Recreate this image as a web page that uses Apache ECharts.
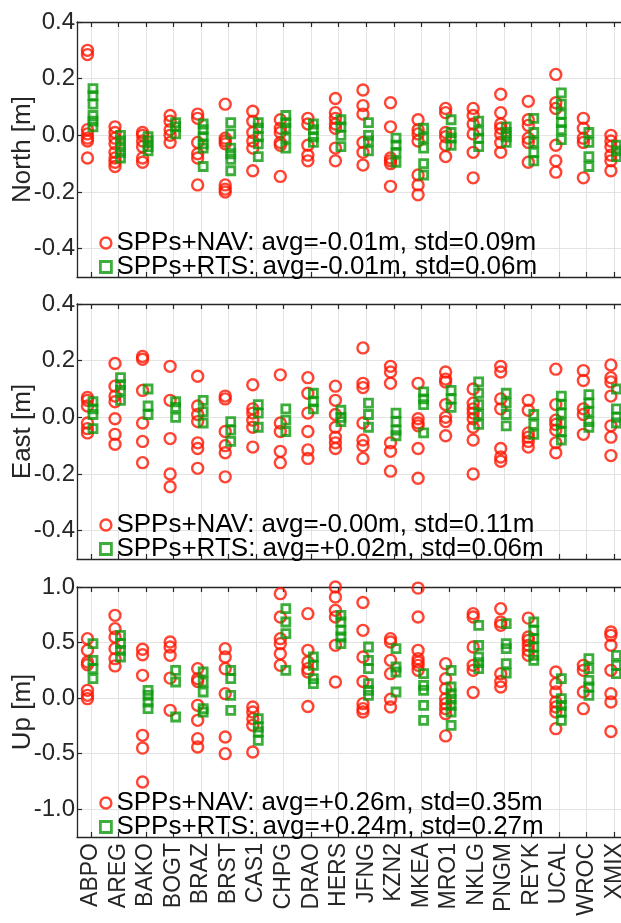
<!DOCTYPE html>
<html><head><meta charset="utf-8">
<script src="https://cdn.jsdelivr.net/npm/echarts@6/dist/echarts.min.js"></script>
<style>html,body{margin:0;padding:0;background:#fff}#c{width:621px;height:923px}</style>
</head><body><div id="c"></div>
<script>
const stations = ['ABPO','AREG','BAKO','BOGT','BRAZ','BRST','CAS1','CHPG','DRAO','HERS','JFNG','KZN2','MKEA','MRO1','NKLG','PNGM','REYK','UCAL','WROC','XMIX'];

const northNAV = [
 [0.30,0.285,0.02,0.005,-0.01,-0.02,-0.08],
 [0.03,0.01,-0.01,-0.03,-0.06,-0.08,-0.095,-0.11],
 [0.01,0.0,-0.02,-0.04,-0.08,-0.095],
 [0.07,0.05,0.02,0.0,-0.025],
 [0.075,0.06,-0.025,-0.065,-0.08,-0.175],
 [0.11,-0.01,-0.02,-0.03,-0.175,-0.19,-0.2],
 [0.085,0.05,0.01,-0.02,-0.045,-0.125],
 [0.055,0.025,0.01,-0.025,-0.035,-0.145],
 [0.06,0.04,-0.035,-0.07,-0.09],
 [0.13,0.08,0.06,0.04,0.025,-0.045,-0.09],
 [0.16,0.105,0.075,-0.025,-0.06,-0.105],
 [0.115,0.03,-0.08,-0.09,-0.1,-0.18],
 [0.055,0.02,0.005,-0.02,-0.14,-0.175,-0.21],
 [0.095,0.08,0.01,-0.005,-0.035,-0.075],
 [0.095,0.07,0.04,0.005,-0.06,-0.15],
 [0.145,0.08,0.04,0.025,0.005,-0.025,-0.06],
 [0.12,0.055,0.035,-0.01,-0.025,-0.095],
 [0.215,0.115,0.095,-0.035,-0.09,-0.13],
 [0.06,0.025,-0.01,-0.025,-0.15],
 [0.0,-0.02,-0.04,-0.07,-0.09,-0.125]
];
const northRTS = [
 [0.165,0.14,0.11,0.07,0.05,0.03],
 [0.0,-0.02,-0.04,-0.06,-0.08],
 [-0.005,-0.02,-0.04,-0.055],
 [0.045,0.03,0.005],
 [0.04,0.02,-0.005,-0.03,-0.045,-0.11],
 [0.045,0.005,-0.045,-0.065,-0.085,-0.125],
 [0.045,0.025,-0.005,-0.03,-0.075],
 [0.07,0.045,0.025,-0.01,-0.045],
 [0.04,0.02,-0.005,-0.025],
 [0.055,0.03,0.0,-0.04],
 [0.045,0.0,-0.02,-0.055],
 [-0.01,-0.035,-0.06,-0.095],
 [0.025,-0.01,-0.045,-0.1,-0.14],
 [0.055,0.01,-0.01,-0.035],
 [0.05,0.015,-0.01,-0.04],
 [0.03,0.01,-0.005,-0.025],
 [0.06,0.01,-0.025,-0.06,-0.09],
 [0.15,0.11,0.075,0.045,0.02,-0.015],
 [0.01,-0.025,-0.075,-0.11],
 [-0.035,-0.055,-0.075]
];
const eastNAV = [
 [0.07,0.06,0.04,-0.02,-0.04,-0.055],
 [0.19,0.11,0.075,0.055,-0.005,-0.06,-0.095],
 [0.215,0.205,0.095,-0.02,-0.085,-0.16],
 [0.18,0.06,-0.075,-0.2,-0.245],
 [0.145,0.04,0.01,-0.015,-0.09,-0.11,-0.18],
 [0.075,0.065,-0.05,-0.1,-0.125,-0.21],
 [0.115,0.03,0.015,-0.01,-0.035,-0.105],
 [0.15,-0.02,-0.05,-0.12,-0.16],
 [0.14,0.085,0.015,-0.05,-0.115,-0.145],
 [0.11,0.06,0.01,-0.035,-0.07,-0.09,-0.11],
 [0.245,0.12,0.105,-0.02,-0.08,-0.1,-0.145],
 [0.18,0.16,0.12,-0.09,-0.12,-0.19],
 [0.12,-0.005,-0.02,-0.03,-0.11,-0.215],
 [0.16,0.135,0.125,0.045,0.0,-0.015,-0.065],
 [0.1,0.05,0.03,0.015,-0.005,-0.035,-0.08,-0.2],
 [0.18,0.16,0.065,0.03,-0.11,-0.14,-0.155],
 [0.06,0.025,-0.055,-0.07,-0.085,-0.105],
 [0.17,0.045,-0.01,-0.025,-0.045,-0.09,-0.125],
 [0.165,0.13,0.03,0.01,-0.06],
 [0.185,0.14,0.125,0.075,-0.03,-0.07,-0.135]
];
const eastRTS = [
 [0.055,0.03,0.01,-0.04],
 [0.14,0.115,0.095,0.06],
 [0.1,0.04,0.01],
 [0.055,0.035,0.0],
 [0.06,0.02,-0.02],
 [-0.015,-0.045,-0.085],
 [0.045,0.015,-0.035],
 [0.03,-0.01,-0.05],
 [0.085,0.055,0.03],
 [0.025,0.0,-0.015],
 [0.05,0.01,-0.035],
 [0.015,-0.015,-0.045,-0.065],
 [0.09,0.065,0.045,-0.055],
 [0.095,0.065,0.035],
 [0.125,0.085,0.045,0.01,-0.025],
 [0.085,0.05,0.01,-0.03],
 [0.01,-0.025,-0.06],
 [0.075,0.045,0.015,-0.02,-0.05,-0.08],
 [0.08,0.05,0.02,-0.015,-0.035],
 [0.1,0.03,0.0,-0.02]
];
const upNAV = [
 [0.535,0.43,0.325,0.3,0.07,0.025,-0.005],
 [0.745,0.625,0.55,0.445,0.355,0.29],
 [0.44,0.39,0.205,-0.335,-0.45,-0.755],
 [0.505,0.46,0.385,0.18,-0.11],
 [0.265,0.175,0.15,-0.065,-0.2,-0.365,-0.44],
 [0.445,0.37,0.265,0.04,-0.35,-0.5],
 [-0.08,-0.125,-0.185,-0.245,-0.485],
 [0.94,0.73,0.535,0.49,0.4,0.295],
 [0.76,0.43,0.325,0.265,0.235,-0.075],
 [1.0,0.91,0.79,0.73,0.475,0.145],
 [0.86,0.61,0.37,0.15,-0.05,-0.095,-0.125],
 [0.535,0.505,0.34,0.22,-0.01,-0.08],
 [0.99,0.73,0.43,0.355,0.325,0.295,0.25],
 [0.31,0.175,0.085,-0.005,-0.05,-0.095,-0.14,-0.34],
 [0.76,0.73,0.46,0.295,0.25,0.05],
 [0.805,0.685,0.655,0.22,0.15,0.1],
 [0.72,0.55,0.52,0.475,0.43,0.385],
 [0.235,0.13,0.055,-0.035,-0.08,-0.125,-0.275],
 [0.295,0.25,0.055,-0.095],
 [0.595,0.565,0.475,0.25,0.04,-0.035,-0.3]
];
const upRTS = [
 [0.49,0.34,0.265,0.175],
 [0.565,0.49,0.43,0.37],
 [0.07,0.025,-0.035,-0.095],
 [0.25,0.145,-0.17],
 [0.235,0.145,0.055,-0.095,-0.125],
 [0.25,0.175,0.025,-0.11],
 [-0.185,-0.26,-0.305,-0.38],
 [0.805,0.685,0.58,0.25],
 [0.37,0.295,0.175,0.13],
 [0.745,0.685,0.61,0.55,0.49],
 [0.46,0.34,0.265,0.13,0.07,0.025],
 [0.445,0.28,0.235,0.055],
 [0.22,0.115,0.07,-0.065,-0.2],
 [0.25,0.1,0.04,-0.01,-0.065,-0.125,-0.245],
 [0.655,0.475,0.37,0.32,0.265],
 [0.67,0.49,0.445,0.31,0.225],
 [0.685,0.61,0.535,0.46,0.385,0.34],
 [0.175,-0.005,-0.065,-0.125,-0.2],
 [0.355,0.265,0.16,0.1,0.025],
 [0.385,0.295,0.22]
];

const panelNames = ['North [m]', 'East [m]', 'Up [m]'];
const navLabels = ['SPPs+NAV: avg=-0.01m, std=0.09m','SPPs+NAV: avg=-0.00m, std=0.11m','SPPs+NAV: avg=+0.26m, std=0.35m'];
const rtsLabels = ['SPPs+RTS: avg=-0.01m, std=0.06m','SPPs+RTS: avg=+0.02m, std=0.06m','SPPs+RTS: avg=+0.24m, std=0.27m'];
const yMin = [-0.5, -0.5, -1.25];
const yMax = [0.4, 0.4, 1.0];
const yTicks = [[-0.4,-0.2,0,0.2,0.4],[-0.4,-0.2,0,0.2,0.4],[-1.0,-0.5,0,0.5,1.0]];

const navData = [northNAV, eastNAV, upNAV];
const rtsData = [northRTS, eastRTS, upRTS];

const FONT = 'Liberation Sans';
const AX = '#262626';
const GRIDC = '#e3e3e3';
const RED = '#ff1500';
const GREEN = '#0a9a0a';
const NAV_OFF = -0.12, RTS_OFF = 0.08;
const idx = stations.map((s, i) => i);

const gridTops = [22, 304, 587];
const gridHeights = [255, 255, 250];
const legendTops = [225, 507, 785];

function flatten(arr, off) {
  const out = [];
  arr.forEach((vals, i) => vals.forEach(v => out.push([i + off, v])));
  return out;
}

const grid = [], xAxis = [], yAxis = [], series = [], legend = [];
for (let p = 0; p < 3; p++) {
  grid.push({left: 77, right: -7, top: gridTops[p], height: gridHeights[p], containLabel: false, outerBoundsMode: 'none'});
  xAxis.push({
    type: 'value', gridIndex: p, position: 'bottom', min: -0.5, max: 19.5,
    axisLine: {show: true, onZero: false, lineStyle: {color: AX, width: 1.3}},
    axisTick: {show: true, inside: true, length: 5, customValues: idx, lineStyle: {color: AX, width: 1.2}},
    axisLabel: {show: p === 2, customValues: idx, rotate: 90, margin: 6,
      formatter: v => stations[Math.round(v)], fontSize: 23, fontFamily: FONT, color: AX},
    splitLine: {show: true, lineStyle: {color: GRIDC, width: 1}}
  });
  xAxis.push({
    type: 'value', gridIndex: p, position: 'top', min: -0.5, max: 19.5,
    axisLine: {show: true, onZero: false, lineStyle: {color: AX, width: 1.3}},
    axisTick: {show: true, inside: true, length: 5, customValues: idx, lineStyle: {color: AX, width: 1.2}},
    axisLabel: {show: false}, splitLine: {show: false}
  });
  yAxis.push({
    type: 'value', gridIndex: p, min: yMin[p], max: yMax[p],
    name: panelNames[p], nameLocation: 'middle', nameRotate: 90, nameGap: 41, nameMoveOverlap: false,
    nameTextStyle: {fontSize: 26, fontFamily: FONT, color: AX},
    axisLine: {show: true, onZero: false, lineStyle: {color: AX, width: 1.3}},
    axisTick: {show: true, inside: true, length: 5, customValues: yTicks[p], lineStyle: {color: AX, width: 1.2}},
    axisLabel: {customValues: yTicks[p], formatter: v => Number(v).toFixed(1), margin: 2,
      fontSize: 24, fontFamily: FONT, color: AX},
    splitLine: {show: true, lineStyle: {color: GRIDC, width: 1}}
  });
  series.push({
    type: 'scatter', name: navLabels[p], xAxisIndex: 2 * p, yAxisIndex: p,
    data: flatten(navData[p], NAV_OFF), symbol: 'circle', symbolSize: 11,
    itemStyle: {color: 'rgba(255,255,255,0)', borderColor: RED, borderWidth: 2.4},
    emphasis: {disabled: true}, z: 2
  });
  series.push({
    type: 'scatter', name: rtsLabels[p], xAxisIndex: 2 * p, yAxisIndex: p,
    data: flatten(rtsData[p], RTS_OFF), symbol: 'rect', symbolSize: 8,
    itemStyle: {color: 'rgba(255,255,255,0)', borderColor: GREEN, borderWidth: 2.8},
    emphasis: {disabled: true}, z: 3
  });
  legend.push({
    orient: 'vertical', left: 94, top: legendTops[p], itemGap: -2, itemWidth: 11, itemHeight: 11,
    textStyle: {fontSize: 26, fontFamily: FONT, color: '#000'},
    selectedMode: false,
    data: [
      {name: navLabels[p], icon: 'circle', itemStyle: {color: '#fff', borderColor: RED, borderWidth: 2.4}},
      {name: rtsLabels[p], icon: 'rect', itemStyle: {color: '#fff', borderColor: GREEN, borderWidth: 2.8}}
    ]
  });
}

const chart = echarts.init(document.getElementById('c'), null, {renderer: 'canvas'});
chart.setOption({animation: false, backgroundColor: '#fff', grid, xAxis, yAxis, series, legend});
</script></body></html>
